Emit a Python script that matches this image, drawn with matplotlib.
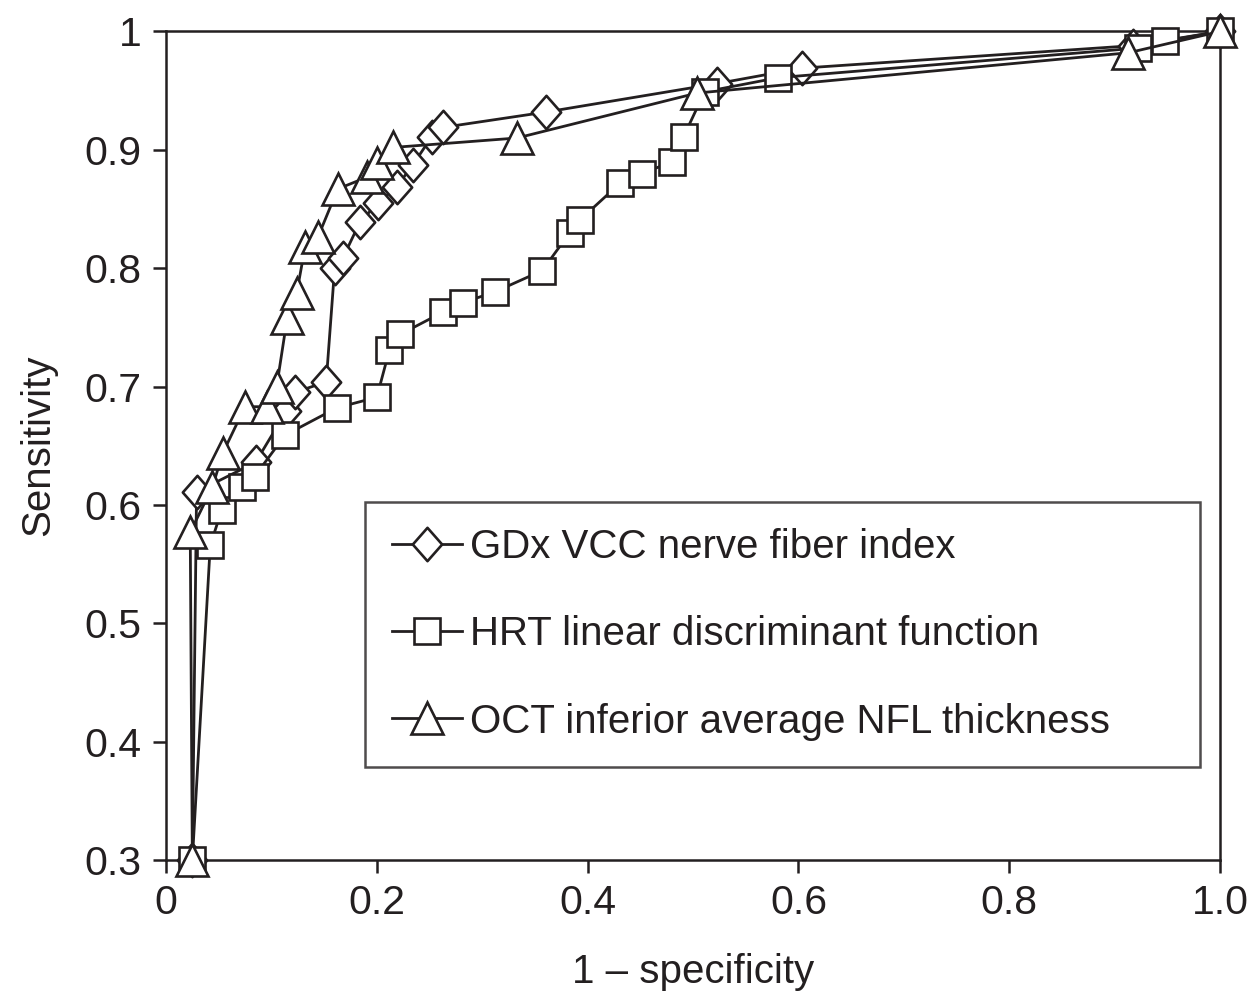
import matplotlib
matplotlib.use("Agg")
import matplotlib.pyplot as plt
from matplotlib.path import Path

plt.rcParams['font.family'] = ['Liberation Sans', 'DejaVu Sans']

# ---- data ----
gdx_x = [0.025, 0.029, 0.085, 0.114, 0.122, 0.152, 0.160, 0.168, 0.184, 0.201, 0.219,
         0.234, 0.252, 0.263, 0.361, 0.523, 0.603, 0.917, 1.0]
gdx_y = [0.300, 0.611, 0.636, 0.679, 0.695, 0.704, 0.800, 0.809, 0.839, 0.855, 0.869,
         0.887, 0.911, 0.919, 0.932, 0.956, 0.969, 0.988, 1.0]

hrt_x = [0.025, 0.042, 0.053, 0.072, 0.084, 0.113, 0.162, 0.200, 0.212, 0.222, 0.263,
         0.282, 0.312, 0.357, 0.383, 0.393, 0.431, 0.452, 0.480, 0.491, 0.511, 0.581,
         0.922, 0.948, 1.0]
hrt_y = [0.300, 0.566, 0.596, 0.615, 0.624, 0.659, 0.682, 0.691, 0.731, 0.744, 0.763,
         0.771, 0.780, 0.798, 0.830, 0.841, 0.872, 0.880, 0.890, 0.911, 0.949, 0.961,
         0.986, 0.992, 1.0]

oct_x = [0.025, 0.023, 0.044, 0.054, 0.075, 0.0955, 0.105, 0.115, 0.124, 0.132, 0.144,
         0.163, 0.191, 0.200, 0.215, 0.333, 0.504, 0.913, 1.0]
oct_y = [0.300, 0.577, 0.615, 0.644, 0.683, 0.683, 0.700, 0.758, 0.779, 0.818, 0.826,
         0.867, 0.877, 0.889, 0.902, 0.910, 0.948, 0.982, 1.0]

labels = ["GDx VCC nerve fiber index",
          "HRT linear discriminant function",
          "OCT inferior average NFL thickness"]

x_ticks = [0, 0.2, 0.4, 0.6, 0.8, 1.0]
x_ticklabels = ["0", "0.2", "0.4", "0.6", "0.8", "1.0"]
y_ticks = [0.3, 0.4, 0.5, 0.6, 0.7, 0.8, 0.9, 1.0]
y_ticklabels = ["0.3", "0.4", "0.5", "0.6", "0.7", "0.8", "0.9", "1"]

# ---- figure ----
ink = '#231f20'
fig = plt.figure(figsize=(12.49, 9.96), dpi=100)
ax = fig.add_axes([0.1329, 0.1365, 0.8439, 0.8319])

diamond = Path([(0, 1), (0.88, 0), (0, -1), (-0.88, 0), (0, 1)],
               [Path.MOVETO, Path.LINETO, Path.LINETO, Path.LINETO, Path.CLOSEPOLY])

common = dict(color=ink, lw=2.0, mfc='white', mec=ink, mew=1.9, clip_on=False)
ax.plot(gdx_x, gdx_y, marker=diamond, ms=24, label=labels[0], zorder=3, **common)
ax.plot(hrt_x, hrt_y, marker='s', ms=18.5, label=labels[1], zorder=4, **common)
ax.plot(oct_x, oct_y, marker='^', ms=23.5, label=labels[2], zorder=5, **common)

ax.set_xlim(0, 1.0)
ax.set_ylim(0.3, 1.0)
ax.set_xticks(x_ticks)
ax.set_xticklabels(x_ticklabels)
ax.set_yticks(y_ticks)
ax.set_yticklabels(y_ticklabels)

for s in ax.spines.values():
    s.set_linewidth(1.8)
    s.set_color(ink)

ax.tick_params(axis='both', direction='out', length=9.5, width=1.8, color=ink,
               labelsize=29.5, labelcolor=ink, pad=8)

ax.set_xlabel("1 \u2013 specificity", fontsize=29, color=ink, labelpad=22)
ax.set_ylabel("Sensitivity", fontsize=29, color=ink, labelpad=20)

leg = ax.legend(loc='upper left', bbox_to_anchor=(0.189, 0.112, 0.792, 0.3205),
                mode='expand', borderaxespad=0, fontsize=29, frameon=True,
                fancybox=False, edgecolor=ink, handlelength=1.75,
                handletextpad=0.2, labelspacing=1.22, borderpad=0.66,
                markerscale=1.0)
leg.get_frame().set_linewidth(1.8)
for t in leg.get_texts():
    t.set_color(ink)

fig.savefig("out.png", dpi=100, facecolor='white')
